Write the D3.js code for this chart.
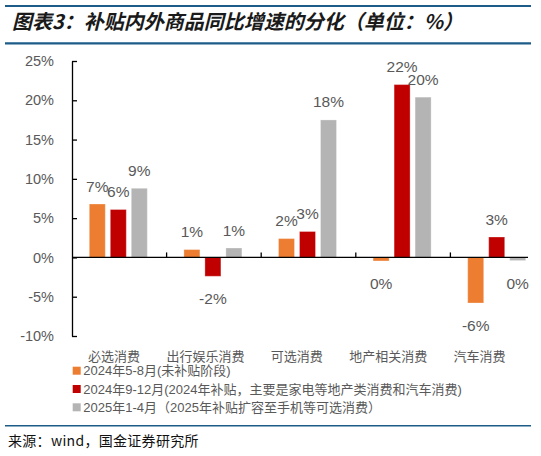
<!DOCTYPE html>
<html>
<head>
<meta charset="utf-8">
<script src="https://cdn.jsdelivr.net/npm/d3@7"></script>
<style>
  html, body { margin: 0; padding: 0; background: #fff; }
  svg { display: block; font-family: "Liberation Sans", "Noto Sans CJK SC", sans-serif; }
</style>
</head>
<body>
<div id="chart"></div>
<script>
const categories = ["必选消费", "出行娱乐消费", "可选消费", "地产相关消费", "汽车消费"];
const seriesNames = [
    "2024年5-8月(未补贴阶段)",
    "2024年9-12月(2024年补贴，主要是家电等地产类消费和汽车消费)",
    "2025年1-4月（2025年补贴扩容至手机等可选消费）"
];
const series2024MayAug = [6.8, 1.0, 2.4, -0.45, -5.8];
const series2024SepDec = [6.1, -2.4, 3.3, 22.0, 2.6];
const series2025JanApr = [8.8, 1.2, 17.5, 20.4, -0.4];
const seriesLabels = [
    ["7%", "1%", "2%", "0%", "-6%"],
    ["6%", "-2%", "3%", "22%", "3%"],
    ["9%", "1%", "18%", "20%", "0%"]
];
const yTicks = [-10, -5, 0, 5, 10, 15, 20, 25];
const colors = ["#ED7D31", "#C00000", "#B4B4B4"];

const width = 541, height = 456;
const allSeries = [series2024MayAug, series2024SepDec, series2025JanApr];

const svg = d3.select("#chart").append("svg")
    .attr("width", width)
    .attr("height", height);

// header / footer rules
const rule = (y, w) => svg.append("line")
    .attr("x1", 5).attr("x2", 531)
    .attr("y1", y).attr("y2", y)
    .attr("stroke", "#1D5C88").attr("stroke-width", w);
rule(6, 2.2);
rule(43.3, 2.2);
rule(425.7, 1.4);

svg.append("text")
    .attr("x", 12).attr("y", 28.5)
    .attr("font-family", "'Noto Sans CJK SC', sans-serif")
    .attr("font-size", 20)
    .attr("font-weight", "bold")
    .attr("font-style", "italic")
    .attr("fill", "#1a1a1a")
    .text("图表3：补贴内外商品同比增速的分化（单位：%）");

svg.append("text")
    .attr("x", 8).attr("y", 445.5)
    .attr("font-family", "'Noto Sans CJK SC', sans-serif")
    .attr("font-size", 14)
    .attr("letter-spacing", 0.3)
    .attr("fill", "#111")
    .text("来源：wind，国金证券研究所");

// scales
const y = d3.scaleLinear().domain([-10, 25]).range([336, 61]);
const x0 = d3.scaleBand().domain(categories).range([72, 545]);
const x1 = d3.scaleBand().domain(d3.range(3)).range([17.3, 75.3]).paddingInner(0.238);
const xLabel = d3.scaleBand().domain(categories).range([68.3, 525.3]);

// y axis
const yAxis = d3.axisLeft(y)
    .tickValues(yTicks)
    .tickFormat(d => d + "%")
    .tickSizeInner(-5)
    .tickSizeOuter(0)
    .tickPadding(18);

const gy = svg.append("g")
    .attr("transform", "translate(72,0)")
    .call(yAxis);
gy.select(".domain").attr("stroke", "#000").attr("stroke-width", 1.3);
gy.selectAll(".tick line").attr("stroke", "#000").attr("stroke-width", 1.3);
gy.selectAll(".tick text")
    .attr("font-size", 14.5)
    .attr("fill", "#595959")
    .attr("font-family", "'Liberation Sans', sans-serif");

// bars
const rows = [];
allSeries.forEach((vals, s) => {
    vals.forEach((v, i) => rows.push({ s, cat: categories[i], v, label: seriesLabels[s][i] }));
});

svg.append("g").selectAll("rect")
    .data(rows)
    .join("rect")
    .attr("x", d => x0(d.cat) + x1(d.s))
    .attr("width", x1.bandwidth())
    .attr("y", d => y(Math.max(0, d.v)))
    .attr("height", d => Math.abs(y(d.v) - y(0)))
    .attr("fill", d => colors[d.s])
    .attr("stroke", "#fff")
    .attr("stroke-opacity", 0.3)
    .attr("stroke-width", 1);

// zero line with category separators
svg.append("line")
    .attr("x1", 72).attr("x2", 528)
    .attr("y1", y(0)).attr("y2", y(0))
    .attr("stroke", "#000").attr("stroke-width", 1.3);

svg.append("g").selectAll("line")
    .data(categories.slice(1))
    .join("line")
    .attr("x1", d => x0(d)).attr("x2", d => x0(d))
    .attr("y1", y(0) - 5).attr("y2", y(0))
    .attr("stroke", "#000").attr("stroke-width", 1.3);

// value labels
svg.append("g").selectAll("text")
    .data(rows)
    .join("text")
    .attr("x", d => x0(d.cat) + x1(d.s) + x1.bandwidth() / 2)
    .attr("y", d => d.v >= 0 ? y(d.v) - 12.5 : y(d.v) + 28)
    .attr("text-anchor", "middle")
    .attr("font-size", 15.5)
    .attr("fill", "#595959")
    .text(d => d.label);

// category labels
svg.append("g").selectAll("text")
    .data(categories)
    .join("text")
    .attr("x", d => xLabel(d) + xLabel.bandwidth() / 2)
    .attr("y", 361)
    .attr("text-anchor", "middle")
    .attr("font-family", "'Noto Sans CJK SC', sans-serif")
    .attr("font-size", 13)
    .attr("fill", "#595959")
    .text(d => d);

// legend
const legend = svg.append("g").selectAll("g")
    .data(seriesNames)
    .join("g")
    .attr("transform", (d, i) => `translate(72.7,${370.7 + i * 18.3})`);
legend.append("rect")
    .attr("x", 0).attr("y", -4)
    .attr("width", 8).attr("height", 8)
    .attr("fill", (d, i) => colors[i]);
legend.append("text")
    .attr("x", 10.6).attr("y", 4.6)
    .attr("font-family", "'Liberation Sans', 'Noto Sans CJK SC', sans-serif")
    .attr("font-size", 13)
    .attr("fill", "#595959")
    .text(d => d);
</script>
</body>
</html>
